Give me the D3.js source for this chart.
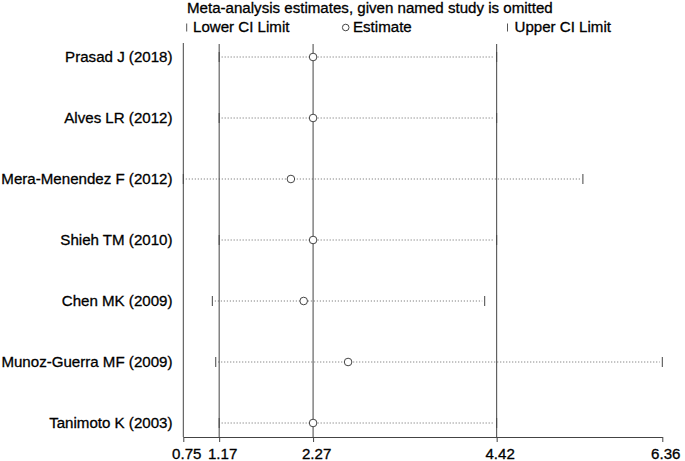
<!DOCTYPE html>
<html><head><meta charset="utf-8">
<script src="https://cdn.jsdelivr.net/npm/d3@7"></script>
<style>body{margin:0;background:#fff}svg{display:block;font-family:"Liberation Sans",Arial,sans-serif}
text{stroke:#000;stroke-width:0.3px;fill:#000}</style>
</head><body>
<svg id="c" width="685" height="461"></svg>
<script>
const studies = ["Prasad J (2018)","Alves LR (2012)","Mera-Menendez F (2012)","Shieh TM (2010)","Chen MK (2009)","Munoz-Guerra MF (2009)","Tanimoto K (2003)"];
const lower    = [1.17, 1.17, 0.75, 1.17, 1.09, 1.13, 1.17];
const estimate = [2.27, 2.27, 2.01, 2.27, 2.16, 2.68, 2.27];
const upper    = [4.42, 4.42, 5.43, 4.42, 4.28, 6.36, 4.42];
const tickValues = [0.75, 1.17, 2.27, 4.42, 6.36];
const overall = [1.17, 2.27, 4.42];
const title = "Meta-analysis estimates, given named study is omitted";

const svg = d3.select("#c");
const x = d3.scaleLinear().domain([0.75, 6.36]).range([183.3, 662.3]);
const y = d3.scalePoint().domain(studies).range([57, 423]);
const axisY = 437, topY = 43;
const lineCol = "#444";
const fs = 15.1;

const rows = studies.map((s,i)=>({s, lo: lower[i], est: estimate[i], up: upper[i]}));
const g = svg.append("g");
g.selectAll("line.ci").data(rows).join("line").attr("class","ci")
  .attr("x1", d=>x(d.lo)+2.5).attr("x2", d=>x(d.up)-2.5)
  .attr("y1", d=>y(d.s)).attr("y2", d=>y(d.s))
  .attr("stroke", "#666").attr("stroke-width", 1).attr("stroke-dasharray", "1,2");
g.selectAll("line.lo").data(rows).join("line").attr("class","lo")
  .attr("x1", d=>x(d.lo)).attr("x2", d=>x(d.lo))
  .attr("y1", d=>y(d.s)-5).attr("y2", d=>y(d.s)+5)
  .attr("stroke", lineCol).attr("stroke-width", 1);
g.selectAll("line.up").data(rows).join("line").attr("class","up")
  .attr("x1", d=>x(d.up)).attr("x2", d=>x(d.up))
  .attr("y1", d=>y(d.s)-5).attr("y2", d=>y(d.s)+5)
  .attr("stroke", lineCol).attr("stroke-width", 1);

svg.append("line").attr("x1", x(0.75)).attr("x2", x(0.75)).attr("y1", topY).attr("y2", axisY)
  .attr("stroke", lineCol).attr("stroke-width", 1);
svg.selectAll("line.ov").data(overall).join("line").attr("class","ov")
  .attr("x1", d=>x(d)).attr("x2", d=>x(d)).attr("y1", topY+1).attr("y2", axisY)
  .attr("stroke", lineCol).attr("stroke-width", 1);

const circ = svg.append("g");
circ.selectAll("circle").data(rows).join("circle")
  .attr("cx", d=>x(d.est)).attr("cy", d=>y(d.s)).attr("r", 3.8)
  .attr("fill", "#fff").attr("stroke", lineCol).attr("stroke-width", 1);
svg.append("g").selectAll("text.lab").data(rows).join("text").attr("class","lab")
  .attr("x", 172.5).attr("y", d=>y(d.s)).attr("dy","0.35em")
  .attr("text-anchor","end").attr("font-size", fs).text(d=>d.s);

const xAxis = d3.axisBottom(x).tickValues(tickValues).tickFormat(d3.format(".2f")).tickSize(5).tickSizeOuter(0);
const ga = svg.append("g").attr("transform", `translate(0,${axisY})`).call(xAxis);
ga.select(".domain").attr("stroke", lineCol);
ga.selectAll(".tick line").attr("stroke", lineCol);
ga.selectAll(".tick text").attr("font-size", fs).attr("fill", "#000").attr("font-family","Liberation Sans, Arial, sans-serif").attr("dy","0.93em").attr("dx", 3);

svg.append("text").attr("x", 187).attr("y", 13).attr("font-size", fs).text(title);
const lg = svg.append("g");
lg.append("line").attr("x1",186.7).attr("x2",186.7).attr("y1",23.5).attr("y2",31.5).attr("stroke","#555");
lg.append("text").attr("x",193).attr("y",32.3).attr("font-size",fs).text("Lower CI Limit");
lg.append("circle").attr("cx",345.7).attr("cy",27.5).attr("r",3.3).attr("fill","#fff").attr("stroke","#444");
lg.append("text").attr("x",353).attr("y",32.3).attr("font-size",fs).text("Estimate");
lg.append("line").attr("x1",507.5).attr("x2",507.5).attr("y1",23.5).attr("y2",31.5).attr("stroke","#555");
lg.append("text").attr("x",514.5).attr("y",32.3).attr("font-size",fs).text("Upper CI Limit");
</script>
</body></html>
